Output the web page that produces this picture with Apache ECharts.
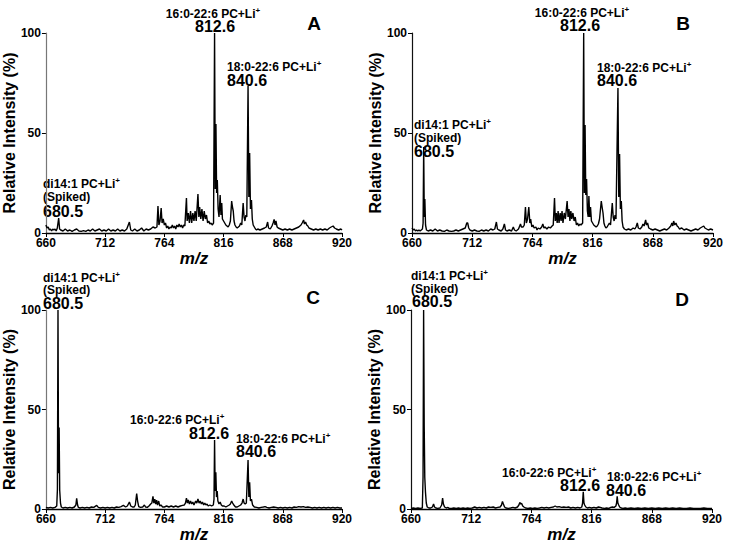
<!DOCTYPE html>
<html>
<head>
<meta charset="utf-8">
<script src="https://cdn.jsdelivr.net/npm/echarts@6/dist/echarts.min.js"></script>
<style>
  html, body { margin: 0; padding: 0; background: #fff; }
  #main { width: 729px; height: 544px; }
</style>
</head>
<body>
<div id="main"></div>
<script>
// tick values
var xTicks = [660, 712, 764, 816, 868, 920];
var yTicks = [0, 50, 100];

// spectra, [m/z, relative intensity %]
var specA = [[660,4],[661,2.5],[662,3],[663,1.5],[664,2],[665,1],[666,2],[667,1.5],[668,2],[669,1],[670,2.5],[671.2,7.5],[672,2],[673,1.5],[675,1],[677,2],[679,1],[681,1.5],[683,0.8],[685,1.5],[687,2],[689,1],[691,0.8],[693,1.2],[695,0.8],[697,1.5],[699,1],[701,2],[703,1],[705,1.5],[707,2],[709,1],[711,1.5],[713,1],[715,2],[717,1],[719,1.5],[721,1],[723,2],[725,1],[727,1.5],[729,1],[731,2],[733.3,5.5],[734.5,1.5],[736,1],[738,2],[740,1],[742,1.5],[744,2.5],[746,1],[748,2],[750,1.5],[752,2],[754,3],[756,2.5],[757.5,3],[758.4,13.5],[759.2,4],[760.2,6],[761.2,12.5],[762,5],[763,7],[764,4],[765,5],[766,2.5],[767,3.5],[768,2],[769,3],[770,2.5],[771,4],[772,2.5],[773,3.5],[774,2],[775,4],[776,3],[777,4.5],[778,3],[779,4],[780,2.5],[781,4],[782,3.5],[783.4,17.5],[784,6],[785,10],[786,5],[787,11],[788,5],[789,10],[790,6],[791,11],[792,6],[793.5,19.5],[794.3,8],[795,13],[796,7],[797,12],[798,6],[799,11],[800,7],[801,9],[802,5],[803,6],[804,4.5],[805,5],[806,4],[807.2,5],[808.1,100],[808.7,22],[809.3,54.5],[809.9,20],[810.5,26.5],[811.2,12],[812,8],[813,19],[813.7,9],[814.4,15],[815,7],[816,6],[817,5],[818,4],[819,3.5],[820,3],[821,4],[822,6],[823.1,16],[823.8,13],[824.5,11],[825.2,6],[826,4],[827,3],[828,2.5],[829,3],[830,3.5],[831,5],[832,4],[833.2,15],[834,8],[834.8,6],[835.6,9],[836.4,8],[837.5,73.5],[838.2,18],[838.9,40],[839.6,12],[840.5,16.5],[841.2,7],[842,4],[843,3],[844,2],[845,1.5],[846,2],[848,1.5],[850,2],[852,2.5],[853.5,3],[854.7,5.5],[855.5,2.5],[857,2],[858.5,3.5],[859.5,5],[860.4,6.8],[861.2,4],[862,6],[863,3],[864,2.5],[866,2],[868,1.5],[870,2],[872,1.5],[874,2],[876,1.5],[878,2],[880,2.5],[882,3],[884,4],[885,5],[886.3,6.5],[887,4.5],[888,5.5],[889,4],[890,3.5],[891,2.5],[893,2],[895,1.5],[897,2],[899,1.5],[901,2],[903,1.5],[905,2],[907,1.5],[909,2.5],[910.5,3],[912.2,3.5],[913.5,2.5],[915,2],[917,1.5],[919,2],[920,1.5]];

var specB = [[660,2.5],[661,1.5],[662,2],[663,1],[664,1.5],[665,1],[666,1.5],[667,1],[668,1.5],[669,2],[669.6,5],[670.1,43],[670.6,8],[671.1,17],[671.7,4],[672.5,1.5],[674,1],[676,1.5],[678,1],[680,2],[682,1],[684,1.5],[686,1],[688,0.8],[690,1.5],[692,1],[694,0.8],[696,1],[698,1.5],[700,1],[702,1.5],[704,2],[706,2.5],[707.3,5],[708.1,5],[709,2.5],[710,1.5],[712,1],[714,1.5],[716,1],[718,0.8],[720,1.5],[722,1],[724,1.5],[726,1],[728,2],[730,1.5],[731.5,2],[732.9,5.5],[733.8,2],[735,1.5],[737,1],[738.5,2],[739.8,4.5],[740.8,1.5],[742,1],[744,1.5],[746,1],[747.5,3],[748.5,1.5],[750,1],[752,2],[753.7,4.5],[754.5,3],[756,3],[757,4],[758,13],[758.8,5],[759.8,7],[760.9,13],[761.8,5],[762.5,7],[763.5,3],[764.5,4],[765.5,2.5],[767,3],[768,1.5],[769,2.5],[770.5,2],[772,3],[773,4.5],[774,2.5],[775,3],[776.5,2],[778,3],[779.5,2.5],[781,3.5],[782,4],[783.1,17.5],[783.8,6],[784.6,10],[785.4,5],[786.2,11],[787,5],[788,10],[788.8,6],[789.6,11],[790.4,5],[791.5,10],[792.5,7],[794,16],[794.8,8],[795.6,12],[796.4,6],[797.2,11],[798,7],[799,10],[800,6],[801,8],[802,4],[803,5],[804,3.5],[805,4.5],[806,4],[807.4,5],[808.3,100],[808.9,20],[809.5,54],[810.1,19],[810.8,27],[811.5,11],[812.2,8],[812.8,18.5],[813.5,8],[814.2,13],[815,6],[816,5],[817,4],[818,3.5],[819,3],[820,3.5],[821,4.5],[822,7],[823.5,16],[824.2,13],[825,10],[825.8,5],[826.6,3.5],[827.5,2.5],[828.5,3],[829.5,4],[830.5,5],[831.5,4],[833,15],[833.8,8],[834.6,6],[835.4,9],[836.2,7],[837.9,72.5],[838.6,18],[839.3,39.5],[840,12],[840.8,16],[841.5,6],[842.3,3],[843.5,2],[845,1.5],[847,2],[849,1.5],[851,2.5],[852.5,2],[853.5,3],[854.6,5],[855.5,2.5],[857,2],[858.5,3],[859.5,4.5],[860.5,3.5],[861.8,6.5],[862.6,4],[863.5,5],[864.5,2.5],[866,2],[868,1.5],[870,2],[872,1.5],[874,1],[876,1.5],[878,2],[880,1.5],[882,2.5],[883.5,3.5],[884.5,5],[885.3,3.5],[886,6],[887,4],[888,5],[889,3.5],[890,3],[891,2],[893,2.5],[895,1.5],[897,2],[899,1.5],[901,1],[903,1.5],[905,2],[907,1.5],[909,2.5],[910.5,3],[912,3.5],[913,2.5],[914.5,2],[916,1.5],[918,2],[920,1.5]];

var specC = [[660,0.8],[662,0.5],[664,0.8],[666,0.5],[668,0.8],[669.5,1.5],[670.1,10],[670.6,100],[671.1,18],[671.6,41],[672.1,9.4],[672.8,3],[673.5,1],[675,0.5],[677,0.8],[679,0.5],[681,0.8],[683,0.5],[685,1],[686.3,2],[687,5.3],[687.8,2],[688.5,0.8],[690,0.5],[692,0.8],[694,0.5],[696,0.8],[698,0.5],[700,1],[702,0.8],[704.6,1.8],[706,0.8],[708,0.5],[710,0.8],[712,0.5],[714,0.8],[716,0.5],[718,0.8],[720,0.5],[722,1],[724,0.8],[726,1.2],[728,1.8],[730,1],[731.5,1.5],[733.3,3.5],[734.5,1.5],[736,1],[737.5,1],[738.5,2],[739.7,7.8],[740.5,4],[741.5,1.2],[743,0.8],[745,1],[746.5,2],[747.5,1],[749,0.8],[750.5,1.5],[752,2.5],[753,3],[754,6.3],[754.8,3],[755.6,5],[756.4,2.5],[757.2,4.5],[758,2],[759,4],[760,1.5],[761,2],[762.5,1],[764,1],[766,1.5],[768,1],[770,1.5],[772,1],[774,1.5],[776,1],[778,1.5],[780,1.8],[781.5,2],[782.5,3],[783.4,5.5],[784.2,3],[785,4.5],[786,2.5],[787,4],[788,2.5],[789,3.5],[790,2],[791.5,4],[792.5,3],[793.5,5],[794.5,3],[795.5,4],[796.5,2.5],[797.5,3.5],[798.5,2],[799.5,3],[800.5,2],[801.5,2.5],[802.5,1.5],[804,2],[805.5,1.5],[807,2],[807.6,5],[808.1,34.7],[808.6,9],[809.2,18.4],[809.8,6],[810.4,9],[811,4],[812,2.5],[813,3.5],[814,2],[815,1.5],[816.5,1.5],[818,1],[819.5,1.5],[821,2],[822,2.5],[823.1,4],[824,3],[825,2],[826.5,1],[828,1],[829.5,1.5],[831,2],[832.2,3],[833.2,5],[834,3],[835,2.5],[836,3],[837.5,24.6],[838.2,6],[838.9,13.4],[839.6,4],[840.5,5],[841.5,2],[843,1],[845,0.8],[847,0.5],[849,0.8],[851,1],[852.5,1.2],[854,0.8],[856,0.5],[858,0.8],[860,1],[862,0.8],[864,0.5],[866,0.8],[868,0.5],[870,0.8],[872,0.5],[874,0.8],[876,0.5],[878,1],[880,0.8],[882,1.2],[884,1],[886,1.2],[888,0.8],[890,1],[892,0.8],[894,0.5],[896,0.8],[898,0.5],[900,0.8],[902,0.5],[904,0.8],[906,0.5],[908,0.8],[910,0.5],[912,0.8],[914,0.5],[916,0.8],[918,0.5],[920,0.5]];

var specD = [[660,0.3],[662,0.5],[664,0.3],[666,0.5],[668,0.3],[669.8,0.5],[670.4,16],[670.9,100],[671.4,42],[671.9,16],[672.5,8.5],[673.2,3],[674,1],[675.5,0.5],[677,0.5],[678.5,1],[679.5,2.5],[680.3,1],[681.5,0.5],[683,0.3],[685,0.5],[686.5,2],[687.3,5.5],[688,2.5],[689,1],[690.5,0.5],[692,0.8],[693,0.3],[695,0.3],[697,0.5],[699,0.3],[701,0.5],[703,0.3],[705,0.5],[707,0.3],[709,0.5],[711,0.3],[713,0.5],[715,1],[717,0.5],[719,0.8],[721,0.5],[723,0.8],[725,0.5],[727,1],[729,0.8],[731,1],[733,0.5],[735,0.8],[737,1],[738.2,2],[739,3.8],[739.8,2.5],[740.8,1],[742,0.5],[744,0.3],[746,0.5],[748,0.8],[750,0.5],[752,1],[753.2,2],[754,3.3],[754.8,2.5],[755.6,2.8],[756.5,1.5],[757.5,1],[759,0.5],[761,0.3],[763,0.5],[765,0.3],[767,0.5],[769,0.3],[771,0.5],[773,0.8],[775,0.5],[777,0.8],[779,0.5],[781,0.8],[783,1],[784.5,1.5],[786,1],[788,1.2],[790,0.8],[792,1],[794,0.8],[796,1],[798,0.5],[800,0.8],[802,0.5],[804,0.8],[806,0.5],[807.5,1],[808.2,3],[808.8,8.7],[809.4,3],[810,2],[811,1],[812.5,0.5],[814,0.8],[816,0.5],[818,0.8],[820,0.5],[822,1],[823.5,0.8],[825,0.5],[827,0.3],[829,0.5],[831,0.3],[832.5,0.8],[834,1],[835.5,0.8],[837,1.5],[837.6,3],[838.1,6.4],[838.7,3],[839.4,2],[840.2,1],[841.5,0.5],[843,0.3],[845,0.5],[847,0.3],[850,0.5],[853,0.3],[856,0.5],[859,0.3],[862,0.5],[865,0.3],[868,0.5],[871,0.3],[874,0.5],[877,0.3],[880,0.5],[883,0.3],[886,0.5],[889,0.3],[892,0.5],[895,0.3],[898,0.3],[901,0.5],[904,0.3],[907,0.3],[910,0.3],[913,0.5],[916,0.3],[920,0.3]];

var panelNames = ['A', 'B', 'C', 'D'];
var peak16 = '16:0-22:6 PC+Li', mz16 = '812.6';
var peak18 = '18:0-22:6 PC+Li', mz18 = '840.6';
var peakDi = 'di14:1 PC+Li', spiked = '(Spiked)', mzDi = '680.5';

var FONT = '"Liberation Sans", Arial, Helvetica, sans-serif';
var chart = echarts.init(document.getElementById('main'), null, { renderer: 'svg' });

var grids = [
  { left: 41, top: 33, width: 301, height: 200 },
  { left: 412, top: 33, width: 301, height: 200 },
  { left: 41, top: 310, width: 301, height: 199 },
  { left: 411, top: 310, width: 301, height: 199 }
];
var specs = [specA, specB, specC, specD];
var yLineColor = ['#777', '#111', '#777', '#111'];

var xAxes = [], yAxes = [], series = [];
for (var i = 0; i < 4; i++) {
  xAxes.push({
    type: 'value', gridIndex: i, min: 660, max: 920,
    name: 'm/z', nameLocation: 'middle', nameGap: 15,
    nameTextStyle: { fontFamily: FONT, fontSize: 17, fontWeight: 'bold', fontStyle: 'italic', color: '#000', verticalAlign: 'top' },
    axisLine: { lineStyle: { color: '#000', width: 1.3 } },
    axisTick: { show: true, length: 4, customValues: xTicks, lineStyle: { color: '#000' } },
    axisLabel: { customValues: xTicks, margin: 4, fontFamily: FONT, fontSize: 12, fontWeight: 'bold', color: '#000' },
    splitLine: { show: false }
  });
  yAxes.push({
    type: 'value', gridIndex: i, min: yTicks[0], max: yTicks[2], interval: yTicks[1] - yTicks[0],
    name: 'Relative Intensity (%)', nameLocation: 'middle', nameGap: 21,
    nameTextStyle: { fontFamily: FONT, fontSize: 16, fontWeight: 'bold', color: '#000' },
    axisLine: { show: true, lineStyle: { color: yLineColor[i], width: 1.2 } },
    axisTick: { show: true, length: 4, lineStyle: { color: '#000' } },
    axisLabel: { margin: 5, fontFamily: FONT, fontSize: 12, fontWeight: 'bold', color: '#000' },
    splitLine: { show: false }
  });
  series.push({
    type: 'line', xAxisIndex: i, yAxisIndex: i, data: specs[i],
    showSymbol: false, animation: false,
    lineStyle: { color: '#000', width: 1.4 }
  });
}

function txt(x, y, s, size, bold, align) {
  return {
    type: 'text', x: x, y: y,
    style: {
      text: s, fill: '#000', font: (bold ? 'bold ' : '') + size + 'px ' + FONT,
      textAlign: align || 'left', textVerticalAlign: 'middle'
    }
  };
}

// label with a raised "+" after it (Li+)
function sup(x, y, s, align) {
  return {
    type: 'text', x: x, y: y,
    style: {
      text: '{a|' + s + '}{s|+}', fill: '#000',
      textAlign: align || 'left', textVerticalAlign: 'middle',
      rich: {
        a: { fontFamily: FONT, fontSize: 12, fontWeight: 'bold', color: '#000', lineHeight: 14, verticalAlign: 'bottom' },
        s: { fontFamily: FONT, fontSize: 8, fontWeight: 'bold', color: '#000', lineHeight: 14, verticalAlign: 'top', padding: [0, 0, 5, 0] }
      }
    }
  };
}

var graphics = [
  // A
  sup(213, 13, peak16, 'center'), txt(215, 26, mz16, 16, true, 'center'),
  sup(227, 66, peak18), txt(227, 80, mz18, 16, true),
  txt(314, 23, panelNames[0], 19, true, 'center'),
  sup(43, 183, peakDi), txt(43, 197, spiked, 12, true), txt(43, 211, mzDi, 16, true),
  // B
  sup(582, 12, peak16, 'center'), txt(580, 25, mz16, 16, true, 'center'),
  sup(597, 67, peak18), txt(597, 80, mz18, 16, true),
  txt(683, 23, panelNames[1], 19, true, 'center'),
  sup(414, 124, peakDi), txt(414, 138, spiked, 12, true), txt(414, 151, mzDi, 16, true),
  // C
  sup(43, 277, peakDi), txt(43, 290, spiked, 12, true), txt(43, 303, mzDi, 16, true),
  txt(313, 297, panelNames[2], 19, true, 'center'),
  sup(130, 419, peak16), txt(209, 433, mz16, 16, true, 'center'),
  sup(236, 438, peak18), txt(236, 451, mz18, 16, true),
  // D
  sup(411, 275, peakDi), txt(411, 289, spiked, 12, true), txt(412, 301, mzDi, 16, true),
  txt(682, 299, panelNames[3], 19, true, 'center'),
  sup(502, 472, peak16), txt(580, 485, mz16, 16, true, 'center'),
  sup(607, 476, peak18), txt(606, 490, mz18, 16, true)
];

chart.setOption({
  backgroundColor: '#fff',
  animation: false,
  grid: grids,
  xAxis: xAxes,
  yAxis: yAxes,
  series: series,
  graphic: graphics
});
</script>
</body>
</html>
